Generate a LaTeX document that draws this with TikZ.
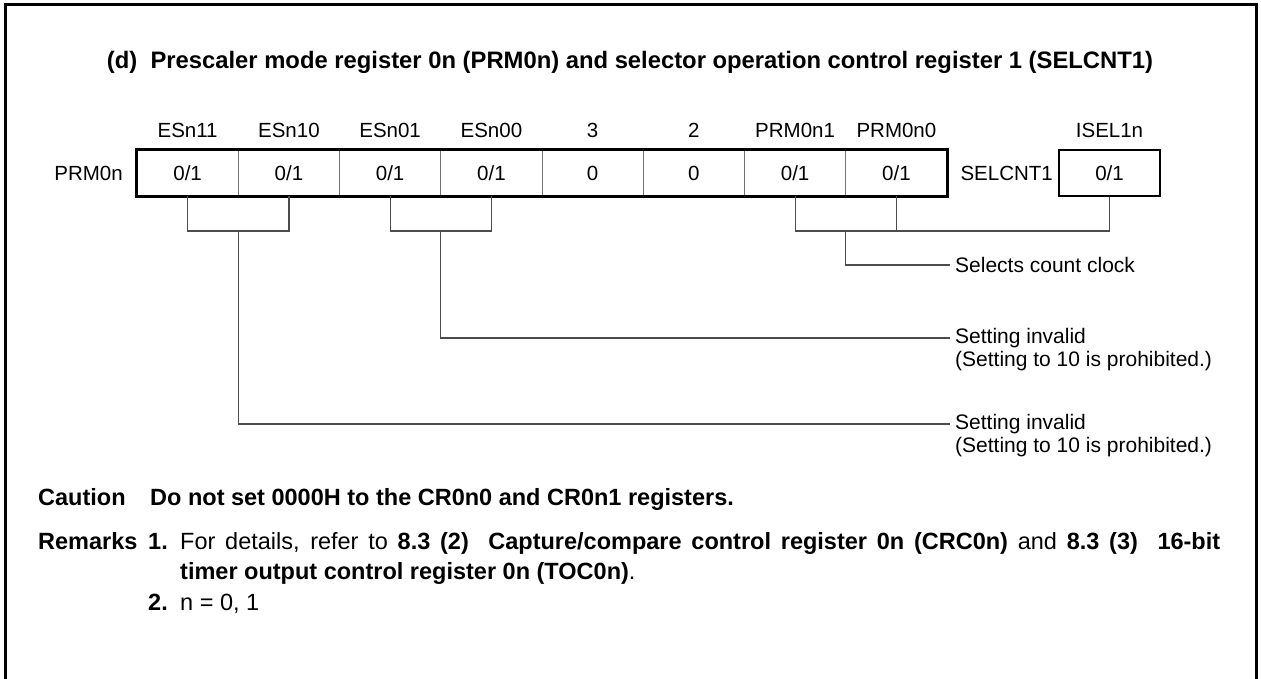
\documentclass[tikz,border=0pt]{standalone}
\usepackage{fontspec}
\setmainfont{Liberation Sans}
\begin{document}
\begin{tikzpicture}[x=1pt,y=-1pt,
  lbl/.style={font=\fontsize{20.5}{24}\selectfont, inner sep=0pt},
  cell/.style={draw=black!55, line width=0.8pt, minimum width=101.25pt, minimum height=46pt, inner sep=0pt, font=\fontsize{20.5}{24}\selectfont},
  frame/.style={line width=2.6pt},
  brk/.style={draw=black!70, line width=1.2pt},
  note/.style={font=\fontsize{21}{24}\selectfont, anchor=west, inner sep=0pt, inner xsep=5pt},
  txt/.style={font=\fontsize{23.5}{28}\selectfont, anchor=base west, inner sep=0pt},
  btxt/.style={txt, font=\fontsize{23.5}{28}\selectfont\bfseries}]
\useasboundingbox (0,0) rectangle (1261,679);
\draw[line width=3pt] (5,679) -- (5,5) -- (1256,5) -- (1256,679);

\node[font=\fontsize{23.8}{28}\selectfont\bfseries, inner sep=0pt] (title) at (630,62)
  {(d)\ \ Prescaler mode register 0n (PRM0n) and selector operation control register 1 (SELCNT1)};

% register cells
\node[cell] (c1) at (187.6,173) {0/1};
\node[cell] (c2) at (288.9,173) {0/1};
\node[cell] (c3) at (390.1,173) {0/1};
\node[cell] (c4) at (491.4,173) {0/1};
\node[cell] (c5) at (592.6,173) {0};
\node[cell] (c6) at (693.9,173) {0};
\node[cell] (c7) at (795.1,173) {0/1};
\node[cell] (c8) at (896.4,173) {0/1};
\draw[frame] (c1.north west) rectangle (c8.south east);
\node[cell, draw=black, frame] (isel) at (1109.5,173) {0/1};

% bit names
\node[lbl] (l1) at (187.6,130) {ESn11};
\node[lbl] (l2) at (288.9,130) {ESn10};
\node[lbl] (l3) at (390.1,130) {ESn01};
\node[lbl] (l4) at (491.4,130) {ESn00};
\node[lbl] (l5) at (592.6,130) {3};
\node[lbl] (l6) at (693.9,130) {2};
\node[lbl] (l7) at (795.1,130) {PRM0n1};
\node[lbl] (l8) at (896.4,130) {PRM0n0};
\node[lbl] (l9) at (1109.5,130) {ISEL1n};

\node[lbl, anchor=east] (prm) at (123,173) {PRM0n};
\node[lbl, anchor=east] (sel) at (1053,173) {SELCNT1};

% annotations
\node[note] (n1) at (950,265) {Selects count clock};
\node[note] (n2) at (950,338) {Setting invalid};
\node[note] (n2b) at (950,361) {(Setting to 10 is prohibited.)};
\node[note] (n3) at (950,424) {Setting invalid};
\node[note] (n3b) at (950,447) {(Setting to 10 is prohibited.)};

% brackets
\coordinate (m12) at (238.2,231);
\coordinate (m34) at (440.8,231);
\coordinate (m78) at (845.8,231);
\draw[brk] (c1.south) |- (m12) -| (c2.south);
\draw[brk] (c3.south) |- (m34) -| (c4.south);
\draw[brk] (c7.south) |- (m78) -| (isel.south);
\draw[brk] (c8.south) -- (c8.south |- m78);
\draw[brk] (m78) |- (n1.west);
\draw[brk] (m34) |- (n2.west);
\draw[brk] (m12) |- (n3.west);

% caution and remarks
\node[btxt] (cau) at (38,505) {Caution};
\node[btxt] (caut) at (150,505) {Do not set 0000H to the CR0n0 and CR0n1 registers.};
\node[btxt] (rem) at (38,549) {Remarks};
\node[btxt] (r1) at (148,549) {1.};
\node[txt] (r1t) at (180,549) {\makebox[1040pt][s]{For details, refer to \textbf{8.3 (2)}\ \ \textbf{Capture/compare control register 0n (CRC0n)} and \textbf{8.3 (3)}\ \ \textbf{16-bit}}};
\node[txt] (r1u) at (180,579) {\textbf{timer output control register 0n (TOC0n)}.};
\node[btxt] (r2) at (148,610) {2.};
\node[txt] (r2t) at (180,610) {n = 0, 1};
\end{tikzpicture}
\end{document}
